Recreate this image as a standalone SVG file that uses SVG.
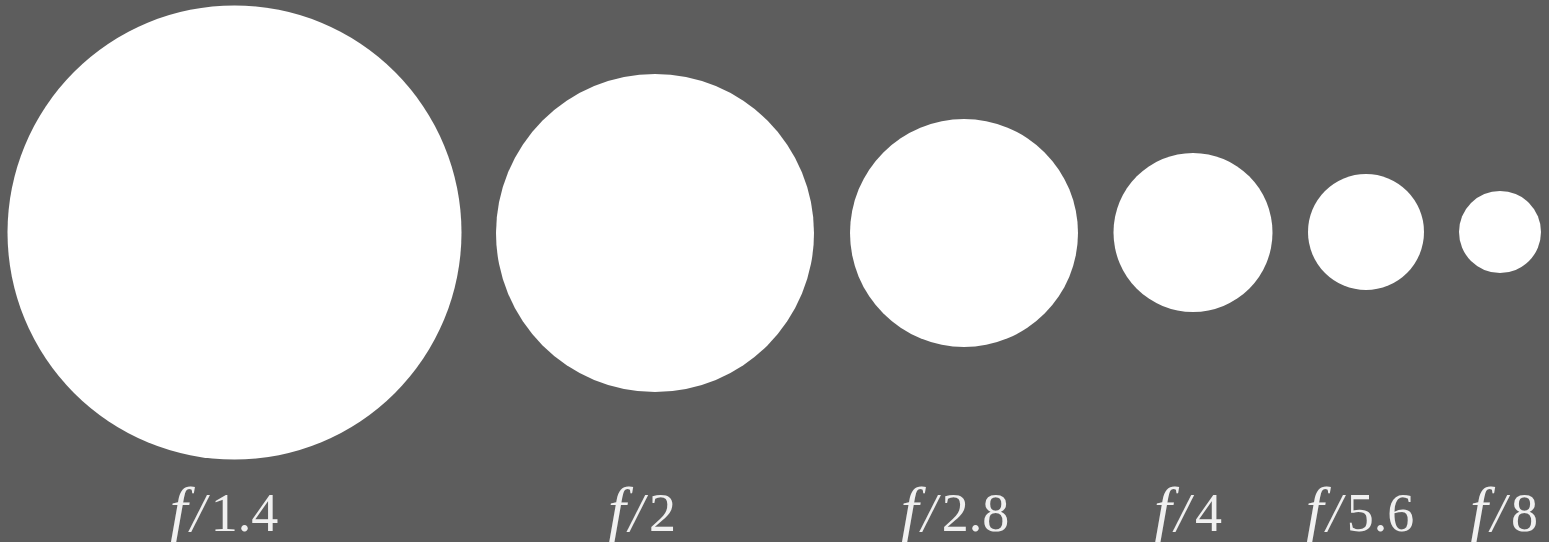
<svg xmlns="http://www.w3.org/2000/svg" width="1549" height="542" viewBox="0 0 1549 542">
<style>
.ap{fill:#ffffff}
.lb{fill:#f0f0f0;font-family:"Liberation Serif","DejaVu Serif",serif;font-size:54px}
.f{font-style:italic;font-size:64px}
.s{font-style:italic}
</style>
<rect width="1549" height="542" fill="#5d5d5d"/>
<g id="aperture-f1_4"><circle class="ap" cx="234.5" cy="232.5" r="227"/><text class="lb" x="224" y="531" text-anchor="middle"><tspan class="f">f</tspan><tspan class="s" dx="3">/</tspan><tspan dx="5">1.4</tspan></text></g>
<g id="aperture-f2"><circle class="ap" cx="655" cy="233" r="159"/><text class="lb" x="642" y="531" text-anchor="middle"><tspan class="f">f</tspan><tspan class="s" dx="3">/</tspan><tspan dx="5">2</tspan></text></g>
<g id="aperture-f2_8"><circle class="ap" cx="964" cy="233" r="114"/><text class="lb" x="955" y="531" text-anchor="middle"><tspan class="f">f</tspan><tspan class="s" dx="3">/</tspan><tspan dx="5">2.8</tspan></text></g>
<g id="aperture-f4"><circle class="ap" cx="1193" cy="232.5" r="79.5"/><text class="lb" x="1188" y="531" text-anchor="middle"><tspan class="f">f</tspan><tspan class="s" dx="3">/</tspan><tspan dx="5">4</tspan></text></g>
<g id="aperture-f5_6"><circle class="ap" cx="1366" cy="232" r="58"/><text class="lb" x="1360" y="531" text-anchor="middle"><tspan class="f">f</tspan><tspan class="s" dx="3">/</tspan><tspan dx="5">5.6</tspan></text></g>
<g id="aperture-f8"><circle class="ap" cx="1500" cy="232" r="41"/><text class="lb" x="1504" y="531" text-anchor="middle"><tspan class="f">f</tspan><tspan class="s" dx="3">/</tspan><tspan dx="5">8</tspan></text></g>
<g id="connectors"/>
</svg>
